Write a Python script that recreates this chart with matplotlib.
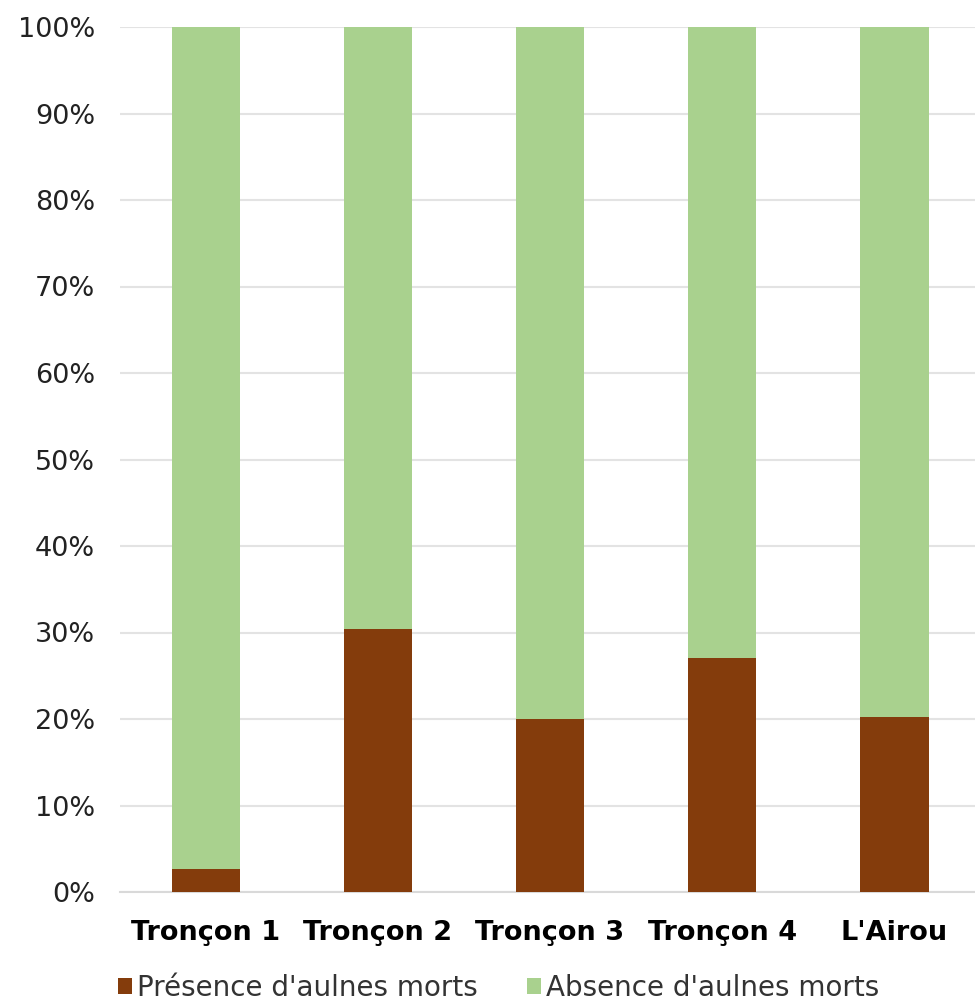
import matplotlib.pyplot as plt
import numpy as np

categories = ["Tronçon 1", "Tronçon 2", "Tronçon 3", "Tronçon 4", "L'Airou"]
presence = [2.7, 30.4, 20.0, 27.0, 20.2]
absence = [100 - v for v in presence]
yticks = list(range(0, 101, 10))

brown = "#843C0C"
green = "#A9D18E"

fig = plt.figure(figsize=(9.75, 10), dpi=100)
ax = fig.add_axes([0.123, 0.108, 0.877, 0.865])

x = np.arange(len(categories))
ax.bar(x, presence, width=0.4, color=brown, label="Présence d'aulnes morts", zorder=3)
ax.bar(x, absence, width=0.4, bottom=presence, color=green, label="Absence d'aulnes morts", zorder=3)

ax.set_ylim(0, 100)
ax.set_xlim(-0.5, 4.47)
ax.set_yticks(yticks)
ax.set_yticklabels([f"{t}%" for t in yticks], fontsize=19.5, color="#222222")
ax.set_xticks(x)
ax.set_xticklabels(categories, fontsize=19.5, fontweight="bold")
ax.tick_params(axis="both", length=0)
ax.tick_params(axis="x", pad=20)
ax.tick_params(axis="y", pad=18)

ax.grid(axis="y", color="#E3E3E3", linewidth=1.5, zorder=0)
for s in ["top", "right", "left"]:
    ax.spines[s].set_visible(False)
ax.spines["bottom"].set_color("#D9D9D9")
ax.spines["bottom"].set_linewidth(1.5)

leg = fig.legend(*ax.get_legend_handles_labels(), loc="center left",
                 bbox_to_anchor=(118 / 975, 1 - 988 / 1000), ncol=2, frameon=False,
                 fontsize=20, handlelength=0.5, handleheight=0.5, handletextpad=0.2,
                 columnspacing=1.75, borderpad=0, borderaxespad=0)
for t in leg.get_texts():
    t.set_color("#333333")

fig.savefig("out.png")
